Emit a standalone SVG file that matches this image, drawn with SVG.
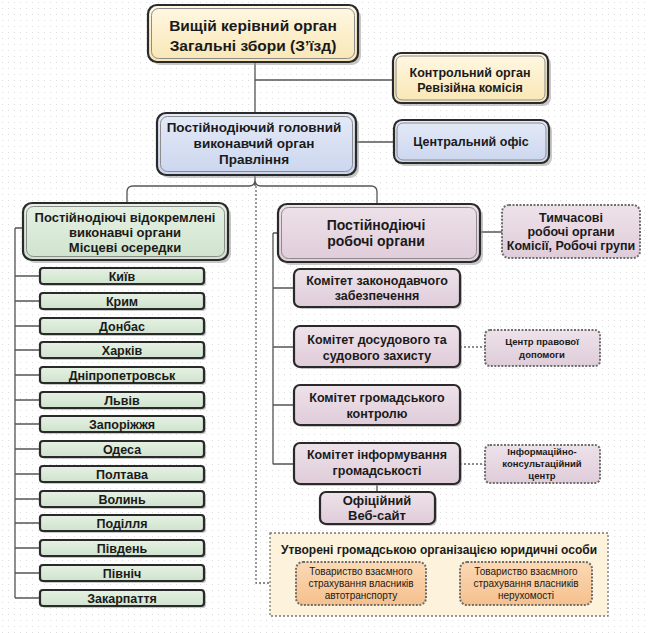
<svg xmlns="http://www.w3.org/2000/svg" width="650" height="633" viewBox="0 0 650 633">
<defs>
<pattern id="dots" width="6" height="6" patternUnits="userSpaceOnUse"><rect x="2" y="2" width="1" height="1" fill="#dcdcdc"/></pattern>
<linearGradient id="gY" x1="0" y1="0" x2="0" y2="1"><stop offset="0" stop-color="#fff8e4"/><stop offset="1" stop-color="#f9e6b4"/></linearGradient>
<linearGradient id="gB" x1="0" y1="0" x2="0" y2="1"><stop offset="0" stop-color="#e4eaf7"/><stop offset="1" stop-color="#cbd6ee"/></linearGradient>
<linearGradient id="gG" x1="0" y1="0" x2="0" y2="1"><stop offset="0" stop-color="#e6f1e4"/><stop offset="1" stop-color="#cfe3cd"/></linearGradient>
<linearGradient id="gP" x1="0" y1="0" x2="0" y2="1"><stop offset="0" stop-color="#eee2ea"/><stop offset="1" stop-color="#dfccd9"/></linearGradient>
<linearGradient id="gO" x1="0" y1="0" x2="0" y2="1"><stop offset="0" stop-color="#fbd9b4"/><stop offset="1" stop-color="#f5c08e"/></linearGradient>
</defs>
<style>
text{font-family:"Liberation Sans",Arial,sans-serif;font-weight:bold;fill:#1a1a1a;text-anchor:middle}
.sh{fill:#9a9a9a;opacity:.55}
.o{stroke:#2a2a2a;stroke-width:2.2}
.i{fill:none;stroke:#8c8c8c;stroke-width:1}
.d{stroke:#6e6e6e;stroke-width:2;stroke-dasharray:2 1.5}
.c{fill:none;stroke:#555;stroke-width:1.3}
.cd{fill:none;stroke:#666;stroke-width:1.3;stroke-dasharray:2 2}
.t15{font-size:15.5px}.t14{font-size:14px}.t135{font-size:13.5px}.t13{font-size:13px}.t12{font-size:12.5px}.t10{font-size:9.5px}.tn{font-size:10px;font-weight:normal}
</style>
<rect width="650" height="633" fill="#ffffff"/>
<rect width="650" height="633" fill="url(#dots)"/>

<g id="connectors">
<path class="c" d="M255 62V113M255 80H393M356 142H394"/>
<path class="c" d="M255 175V186M127 203V192Q127 186 133 186H249Q255 186 255 180Q255 186 261 186H371Q377 186 377 192V204"/>
<path class="cd" d="M256 186V583H270"/>
<path class="c" d="M15 228H23M15 228V598"/>
<path class="c" d="M15 276H40M15 301H40M15 326H40M15 350H40M15 375H40M15 400H40M15 424H40M15 449H40M15 474H40M15 499H40M15 523H40M15 548H40M15 573H40M15 598H40"/>
<path class="c" d="M273 233H278M273 233V464M273 288H294M273 347H294M273 405H294M273 464H294M480 232H502M377 485V492"/>
<path class="cd" d="M460 347H485M460 464H485M426 581H460"/>
</g>

<g id="n-top">
<rect class="sh" x="151" y="8" width="210" height="57" rx="9"/>
<rect class="o" x="148" y="5" width="210" height="57" rx="9" fill="url(#gY)"/>
<rect class="i" x="151.5" y="8.5" width="203" height="50" rx="7"/>
<text class="t15" x="253" y="31">Вищій керівний орган</text>
<text class="t15" x="253" y="51">Загальні збори (З’їзд)</text>
</g>

<g id="n-control">
<rect class="sh" x="396" y="56" width="155" height="50" rx="8"/>
<rect class="o" x="393" y="53" width="155" height="50" rx="8" fill="url(#gY)"/>
<rect class="i" x="396" y="56" width="149" height="44" rx="6"/>
<text class="t12" x="470" y="77">Контрольний орган</text>
<text class="t12" x="470" y="92">Ревізійна комісія</text>
</g>

<g id="n-exec">
<rect class="sh" x="160" y="116" width="199" height="62" rx="9"/>
<rect class="o" x="157" y="113" width="199" height="62" rx="9" fill="url(#gB)"/>
<rect class="i" x="160.5" y="116.5" width="192" height="55" rx="7"/>
<text class="t135" x="254" y="132">Постійнодіючий головний</text>
<text class="t135" x="254" y="148">виконавчий орган</text>
<text class="t135" x="254" y="164">Правління</text>
</g>

<g id="n-office">
<rect class="sh" x="397" y="123" width="155" height="43" rx="8"/>
<rect class="o" x="394" y="120" width="155" height="43" rx="8" fill="url(#gB)"/>
<rect class="i" x="397" y="123" width="149" height="37" rx="6"/>
<text class="t12" x="471" y="146">Центральний офіс</text>
</g>

<g id="n-local">
<rect class="sh" x="26" y="206" width="205" height="57" rx="9"/>
<rect class="o" x="23" y="203" width="205" height="57" rx="9" fill="url(#gG)"/>
<rect class="i" x="26.5" y="206.5" width="198" height="50" rx="7"/>
<text class="t13" x="125" y="222">Постійнодіючі відокремлені</text>
<text class="t13" x="125" y="237">виконавчі органи</text>
<text class="t13" x="125" y="252">Місцеві осередки</text>
</g>

<g id="cities">
<g id="n-kyiv"><rect class="sh" x="42" y="270" width="164" height="16" rx="3"/><rect class="o" x="40" y="268" width="164" height="16" rx="3" fill="url(#gG)" stroke-width="1.5"/><text class="t12" x="122" y="281">Київ</text></g>
<g id="n-krym"><rect class="sh" x="42" y="295" width="164" height="16" rx="3"/><rect class="o" x="40" y="293" width="164" height="16" rx="3" fill="url(#gG)" stroke-width="1.5"/><text class="t12" x="122" y="306">Крим</text></g>
<g id="n-donbas"><rect class="sh" x="42" y="320" width="164" height="16" rx="3"/><rect class="o" x="40" y="318" width="164" height="16" rx="3" fill="url(#gG)" stroke-width="1.5"/><text class="t12" x="122" y="331">Донбас</text></g>
<g id="n-kharkiv"><rect class="sh" x="42" y="344" width="164" height="16" rx="3"/><rect class="o" x="40" y="342" width="164" height="16" rx="3" fill="url(#gG)" stroke-width="1.5"/><text class="t12" x="122" y="355">Харків</text></g>
<g id="n-dnipro"><rect class="sh" x="42" y="369" width="164" height="16" rx="3"/><rect class="o" x="40" y="367" width="164" height="16" rx="3" fill="url(#gG)" stroke-width="1.5"/><text class="t12" x="122" y="380">Дніпропетровськ</text></g>
<g id="n-lviv"><rect class="sh" x="42" y="394" width="164" height="16" rx="3"/><rect class="o" x="40" y="392" width="164" height="16" rx="3" fill="url(#gG)" stroke-width="1.5"/><text class="t12" x="122" y="405">Львів</text></g>
<g id="n-zap"><rect class="sh" x="42" y="418" width="164" height="16" rx="3"/><rect class="o" x="40" y="416" width="164" height="16" rx="3" fill="url(#gG)" stroke-width="1.5"/><text class="t12" x="122" y="429">Запоріжжя</text></g>
<g id="n-odesa"><rect class="sh" x="42" y="443" width="164" height="16" rx="3"/><rect class="o" x="40" y="441" width="164" height="16" rx="3" fill="url(#gG)" stroke-width="1.5"/><text class="t12" x="122" y="454">Одеса</text></g>
<g id="n-poltava"><rect class="sh" x="42" y="468" width="164" height="16" rx="3"/><rect class="o" x="40" y="466" width="164" height="16" rx="3" fill="url(#gG)" stroke-width="1.5"/><text class="t12" x="122" y="479">Полтава</text></g>
<g id="n-volyn"><rect class="sh" x="42" y="493" width="164" height="16" rx="3"/><rect class="o" x="40" y="491" width="164" height="16" rx="3" fill="url(#gG)" stroke-width="1.5"/><text class="t12" x="122" y="504">Волинь</text></g>
<g id="n-podillia"><rect class="sh" x="42" y="517" width="164" height="16" rx="3"/><rect class="o" x="40" y="515" width="164" height="16" rx="3" fill="url(#gG)" stroke-width="1.5"/><text class="t12" x="122" y="528">Поділля</text></g>
<g id="n-south"><rect class="sh" x="42" y="542" width="164" height="16" rx="3"/><rect class="o" x="40" y="540" width="164" height="16" rx="3" fill="url(#gG)" stroke-width="1.5"/><text class="t12" x="122" y="553">Південь</text></g>
<g id="n-north"><rect class="sh" x="42" y="567" width="164" height="16" rx="3"/><rect class="o" x="40" y="565" width="164" height="16" rx="3" fill="url(#gG)" stroke-width="1.5"/><text class="t12" x="122" y="578">Північ</text></g>
<g id="n-zakarp"><rect class="sh" x="42" y="592" width="164" height="16" rx="3"/><rect class="o" x="40" y="590" width="164" height="16" rx="3" fill="url(#gG)" stroke-width="1.5"/><text class="t12" x="122" y="603">Закарпаття</text></g>
</g>

<g id="n-work">
<rect class="sh" x="281" y="207" width="202" height="58" rx="9"/>
<rect class="o" x="278" y="204" width="202" height="58" rx="9" fill="url(#gP)"/>
<rect class="i" x="281.5" y="207.5" width="195" height="51" rx="7"/>
<text class="t14" x="376" y="230">Постійнодіючі</text>
<text class="t14" x="376" y="246">робочі органи</text>
</g>

<g id="n-temp">
<rect class="d" x="502" y="205" width="138" height="53" rx="7" fill="url(#gP)"/>
<text class="t12" x="571" y="222">Тимчасові</text>
<text class="t12" x="571" y="236">робочі органи</text>
<text class="t12" x="571" y="250">Комісії, Робочі групи</text>
</g>

<g id="n-legis">
<rect class="sh" x="296" y="271" width="166" height="38" rx="6"/>
<rect class="o" x="294" y="269" width="166" height="38" rx="6" fill="url(#gP)" stroke="#555" stroke-width="1.8"/>
<text class="t12" x="377" y="285">Комітет законодавчого</text>
<text class="t12" x="377" y="300">забезпечення</text>
</g>

<g id="n-court">
<rect class="sh" x="296" y="328" width="166" height="41" rx="6"/>
<rect class="o" x="294" y="326" width="166" height="41" rx="6" fill="url(#gP)" stroke="#555" stroke-width="1.8"/>
<text class="t12" x="377" y="344">Комітет досудового та</text>
<text class="t12" x="377" y="360">судового захисту</text>
</g>

<g id="n-legalaid">
<rect class="d" x="485" y="330" width="115" height="36" rx="5" fill="url(#gP)"/>
<text class="t10" x="542" y="345">Центр правової</text>
<text class="t10" x="542" y="358">допомоги</text>
</g>

<g id="n-control2">
<rect class="sh" x="296" y="387" width="166" height="40" rx="6"/>
<rect class="o" x="294" y="385" width="166" height="40" rx="6" fill="url(#gP)" stroke="#555" stroke-width="1.8"/>
<text class="t12" x="377" y="402">Комітет громадського</text>
<text class="t12" x="377" y="418">контролю</text>
</g>

<g id="n-inform">
<rect class="sh" x="296" y="445" width="166" height="41" rx="6"/>
<rect class="o" x="294" y="443" width="166" height="41" rx="6" fill="url(#gP)" stroke="#555" stroke-width="1.8"/>
<text class="t12" x="377" y="459">Комітет інформування</text>
<text class="t12" x="377" y="475">громадськості</text>
</g>

<g id="n-infocenter">
<rect class="d" x="485" y="445" width="115" height="38" rx="5" fill="url(#gP)"/>
<text class="t10" x="542" y="455">Інформаційно-</text>
<text class="t10" x="542" y="467">консультаційний</text>
<text class="t10" x="542" y="479">центр</text>
</g>

<g id="n-web">
<rect class="sh" x="322" y="494" width="115" height="32" rx="6"/>
<rect class="o" x="320" y="492" width="115" height="32" rx="6" fill="url(#gP)" stroke="#555" stroke-width="1.8"/>
<text class="t13" x="377" y="505">Офіційний</text>
<text class="t13" x="377" y="520">Веб-сайт</text>
</g>

<g id="n-legal">
<rect x="270" y="533" width="338" height="83" fill="#fdf3dc" stroke="#777" stroke-width="1.3" stroke-dasharray="2 2"/>
<text x="439" y="554" style="font-size:12px">Утворені громадською організацією юридичні особи</text>
</g>

<g id="n-auto">
<rect class="d" x="296" y="562" width="130" height="43" rx="7" fill="url(#gO)"/>
<text class="tn" x="361" y="575">Товариство взаємного</text>
<text class="tn" x="361" y="587">страхування власників</text>
<text class="tn" x="361" y="599">автотранспорту</text>
</g>

<g id="n-realty">
<rect class="d" x="460" y="562" width="132" height="43" rx="7" fill="url(#gO)"/>
<text class="tn" x="526" y="575">Товариство взаємного</text>
<text class="tn" x="526" y="587">страхування власників</text>
<text class="tn" x="526" y="599">нерухомості</text>
</g>
</svg>
